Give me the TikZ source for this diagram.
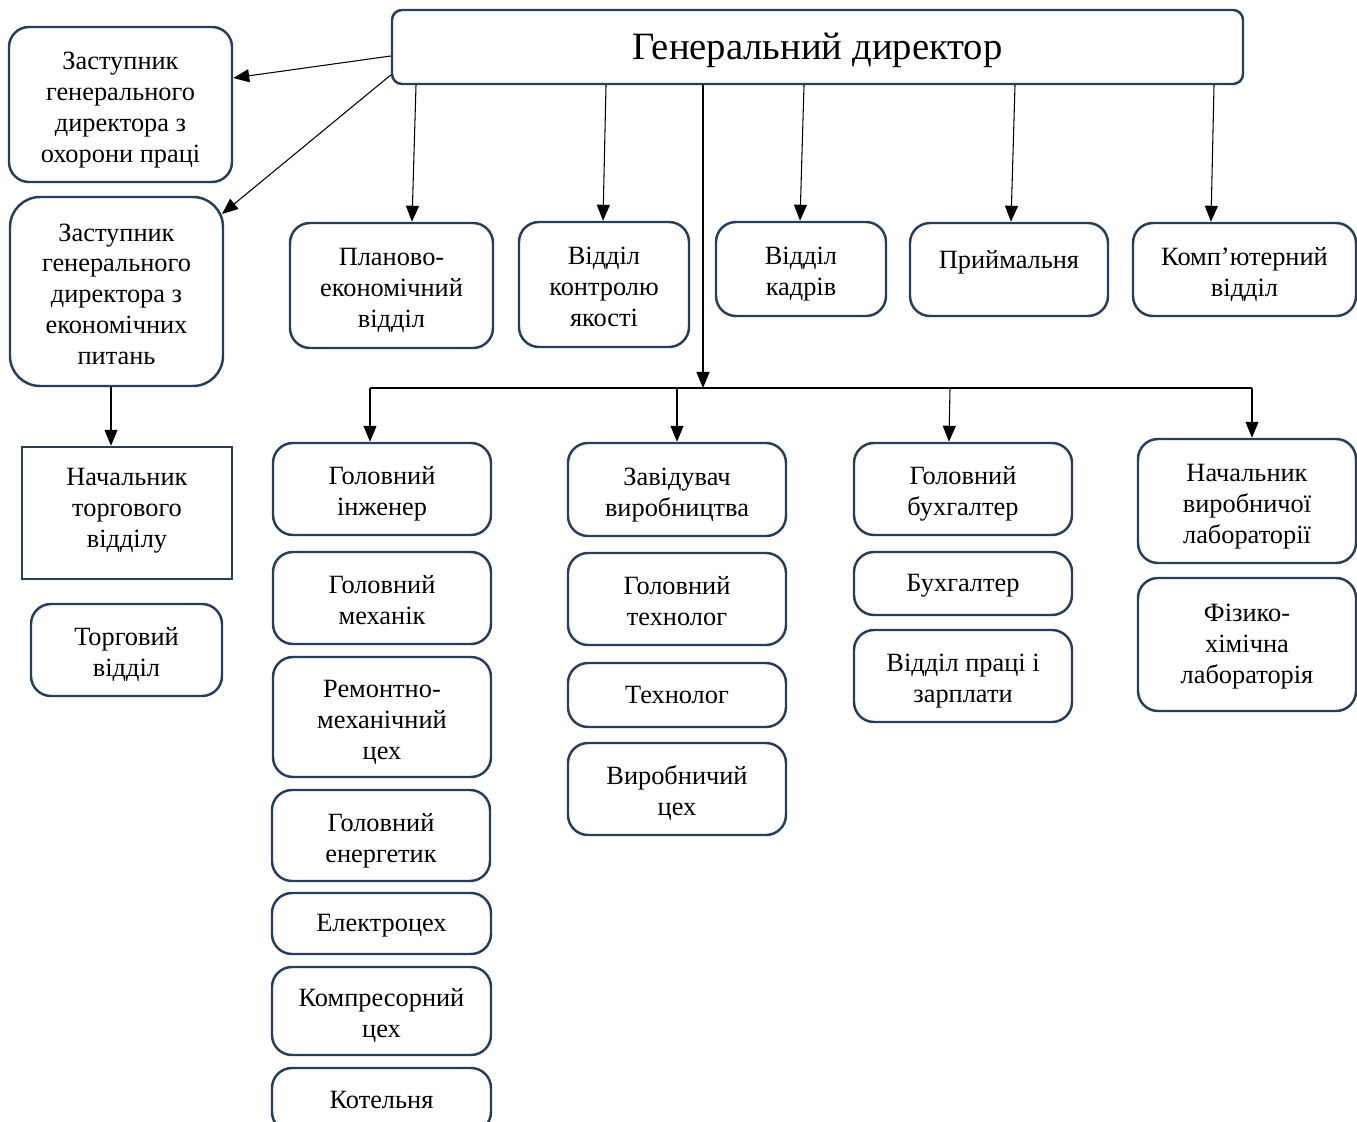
\documentclass[tikz,border=0pt]{standalone}
\usepackage{fontspec}
\setmainfont{Liberation Serif}
\usepackage{tikz}
\usetikzlibrary{arrows.meta}
\usepackage{xcolor}
\definecolor{boxline}{RGB}{38,62,92}

\begin{document}
\begin{tikzpicture}[x=0.2mm,y=-0.2mm,
  unit/.style={draw=boxline, line width=1.4pt, rounded corners=4mm, align=center, inner sep=0pt,
    font=\fontsize{15}{17.6}\selectfont, text height=15pt, text depth=5.4pt},
  ln2/.style={text height=36pt},
  ln3/.style={text height=53.6pt},
  ln4/.style={text height=71.2pt},
  ln5/.style={text height=88.8pt},
  sz/.style 2 args={minimum width=#1*0.2mm, minimum height=#2*0.2mm},
  arr/.style={line width=0.6pt, -{Triangle[length=3.2mm,width=2.6mm]}}]
\useasboundingbox (0,0) rectangle (1357,1122);

\node [unit, sz={851}{74}, rounded corners=2mm, font=\fontsize{22}{26}\selectfont, text height=22pt, text depth=7.2pt] (gd) at (817.5,47) {Генеральний директор};

\node [unit, ln4, sz={223}{155}] (zop) at (120.5,104.5) {Заступник\\генерального\\директора з\\охорони праці};
\node [unit, ln5, sz={213}{189}, rounded corners=6mm] (zek) at (116.5,291.5) {Заступник\\генерального\\директора з\\економічних\\питань};
\node [unit, ln3, sz={210}{132}, rounded corners=0pt, text depth=14.2pt] (ntorg) at (127,513) {Начальник\\торгового\\відділу};
\node [unit, ln2, sz={191}{92}] (torg) at (126.5,650) {Торговий\\відділ};

\node [unit, ln3, sz={203}{125}] (plan) at (391.5,285.5) {Планово-\\економічний\\відділ};
\node [unit, ln3, sz={170}{125}] (kontr) at (604,284.5) {Відділ\\контролю\\якості};
\node [unit, ln2, sz={170}{94}] (kadr) at (801,269) {Відділ\\кадрів};
\node [unit, sz={198}{93}, text depth=16.7pt] (pryim) at (1009,269.5) {Приймальня};
\node [unit, ln2, sz={223}{93}] (komp) at (1244.5,269.5) {Комп’ютерний\\відділ};

\node [unit, ln2, sz={218}{92}] (gin) at (382,489) {Головний\\інженер};
\node [unit, ln2, sz={218}{92}] (gmeh) at (382,598) {Головний\\механік};
\node [unit, ln3, sz={218}{120}] (rem) at (382,717) {Ремонтно-\\механічний\\цех};
\node [unit, ln2, sz={218}{91}] (gen) at (381,835.5) {Головний\\енергетик};
\node [unit, sz={219}{61}] (elek) at (381.5,923.5) {Електроцех};
\node [unit, ln2, sz={219}{88}] (komr) at (381.5,1011) {Компресорний\\цех};
\node [unit, sz={219}{64}] (kotel) at (381.5,1100) {Котельня};

\node [unit, ln2, sz={218}{93}] (zav) at (677,489.5) {Завідувач\\виробництва};
\node [unit, ln2, sz={218}{92}] (gtech) at (677,599) {Головний\\технолог};
\node [unit, sz={218}{64}] (tech) at (677,695) {Технолог};
\node [unit, ln2, sz={218}{92}] (vyrc) at (677,789) {Виробничий\\цех};

\node [unit, ln2, sz={218}{92}] (gbuh) at (963,489) {Головний\\бухгалтер};
\node [unit, sz={218}{63}] (buh) at (963,583.5) {Бухгалтер};
\node [unit, ln2, sz={218}{92}] (vpz) at (963,676) {Відділ праці і\\зарплати};

\node [unit, ln3, sz={218}{124}] (nlab) at (1247,501) {Начальник\\виробничої\\лабораторії};
\node [unit, ln3, sz={218}{133}, text depth=9.4pt] (flab) at (1247,644.5) {Фізико-\\хімічна\\лабораторія};

\coordinate (bus) at (703,388);
\coordinate (busl) at (370,388);
\coordinate (busr) at (1252,388);

\draw [arr] (gd.west |- 0,56) -- (zop.east |- 0,78);
\draw [arr] (gd.west |- 0,75) -- (222,214);
\draw [arr] (111,0 |- zek.south) -- (111,0 |- ntorg.north);

\draw [arr] (416,0 |- gd.south) -- (412,0 |- plan.north);
\draw [arr] (606,0 |- gd.south) -- (603,0 |- kontr.north);
\draw [arr] (804,0 |- gd.south) -- (800,0 |- kadr.north);
\draw [arr] (1015,0 |- gd.south) -- (1011,0 |- pryim.north);
\draw [arr] (1214,0 |- gd.south) -- (1211,0 |- komp.north);

\draw [arr] (703,0 |- gd.south) -- (bus);
\draw [line width=0.6pt] (busl) -- (busr);
\draw [arr] (busl) -- (370,0 |- gin.north);
\draw [arr] (677,0 |- bus) -- (677,0 |- zav.north);
\draw [arr] (950,0 |- bus) -- (949,0 |- gbuh.north);
\draw [arr] (busr) -- (1252,0 |- nlab.north);
\end{tikzpicture}
\end{document}
